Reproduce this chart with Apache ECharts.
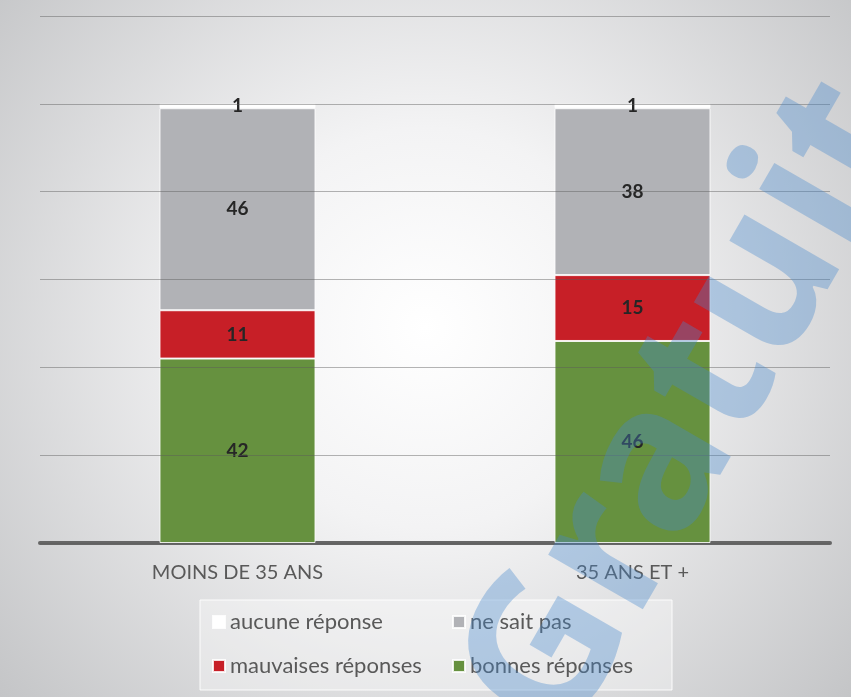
<!DOCTYPE html>
<html><head><meta charset="utf-8">
<script src="https://cdn.jsdelivr.net/npm/echarts@6/dist/echarts.min.js"></script>
<style>html,body{margin:0;padding:0;}#c{width:851px;height:697px;}</style>
</head><body><div id="c"></div>
<script>
const categories = ['MOINS DE 35 ANS', '35 ANS ET +'];
const bonnes = [42, 46];
const mauvaises = [11, 15];
const neSaitPas = [46, 38];
const aucune = [1, 1];
const seriesNames = ['bonnes réponses', 'mauvaises réponses', 'ne sait pas', 'aucune réponse'];
const seriesColors = ['#66913f', '#c71f27', '#b1b2b6', '#ffffff'];
const seriesData = [bonnes, mauvaises, neSaitPas, aucune];

const chart = echarts.init(document.getElementById('c'));
const font = 'Lato, "Noto Sans", sans-serif';
const series = seriesNames.map((n, i) => ({
  name: n, type: 'bar', stack: 'total', barWidth: '39.5%',
  data: seriesData[i],
  itemStyle: { color: seriesColors[i], borderColor: 'rgba(255,255,255,0.85)', borderWidth: 1 },
  label: { show: true, position: 'inside', color: '#262626', fontWeight: 'bold', fontSize: 19, fontFamily: font },
  z: 2
}));
chart.setOption({
  backgroundColor: {
    type: 'radial', x: 0.5, y: 0.47, r: 0.82,
    colorStops: [{offset: 0, color: '#ffffff'}, {offset: 0.35, color: '#f3f3f4'}, {offset: 1, color: '#c3c4c6'}]
  },
  animation: false,
  grid: { left: 40, right: 21, top: 16, bottom: 154 },
  xAxis: {
    type: 'category', data: categories,
    axisLine: { lineStyle: { color: '#666666', width: 4 } },
    axisTick: { show: false },
    axisLabel: { color: '#595959', fontSize: 20, fontFamily: font, margin: 20 }
  },
  yAxis: {
    type: 'value', min: 0, max: 120, interval: 20, z: 5,
    axisLabel: { show: false }, axisLine: { show: false }, axisTick: { show: false },
    splitLine: { lineStyle: { color: 'rgba(90,90,90,0.45)', width: 1 } }
  },
  legend: [
    { orient: 'vertical', left: 212, top: 611, itemWidth: 12, itemHeight: 12, itemGap: 22, padding: 0,
      data: ['aucune réponse', 'mauvaises réponses'],
      textStyle: { color: '#595959', fontSize: 22, fontFamily: font, lineHeight: 22 }, icon: 'rect' },
    { orient: 'vertical', left: 452, top: 611, itemWidth: 12, itemHeight: 12, itemGap: 22, padding: 0,
      data: ['ne sait pas', 'bonnes réponses'],
      textStyle: { color: '#595959', fontSize: 22, fontFamily: font, lineHeight: 22 }, icon: 'rect' }
  ],
  graphic: [
    { type: 'rect', shape: { x: 200, y: 600, width: 472, height: 90 }, z: -1,
      style: { fill: 'rgba(255,255,255,0.35)', stroke: 'rgba(255,255,255,0.9)', lineWidth: 1 } },
    { type: 'text', x: 692, y: 410, rotation: Math.PI / 3, z: 100,
      style: { text: 'Gratuit', font: 'bold 200px "Noto Sans", sans-serif', fill: 'rgba(70,135,205,0.36)',
        textAlign: 'center', textVerticalAlign: 'middle' } }
  ],
  series: series
});
</script></body></html>
